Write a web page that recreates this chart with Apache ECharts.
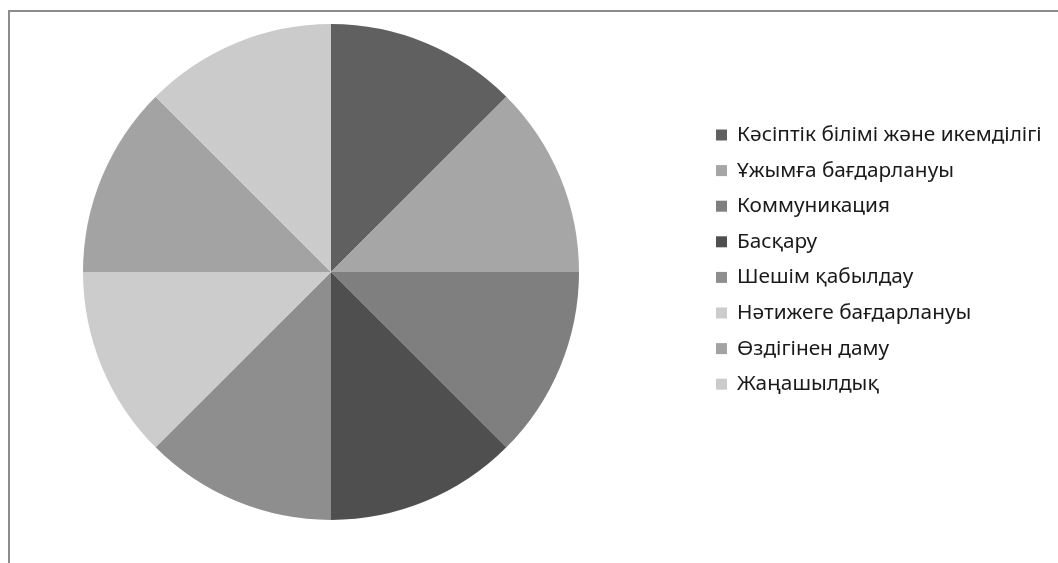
<!DOCTYPE html>
<html>
<head>
<meta charset="utf-8">
<script src="https://cdn.jsdelivr.net/npm/echarts@6/dist/echarts.min.js"></script>
<style>html,body{margin:0;padding:0;background:#fff}#c{width:1058px;height:563px}</style>
</head>
<body>
<div id="c"></div>
<script>
const categories = ["Кәсіптік білімі және икемділігі","Ұжымға бағдарлануы","Коммуникация","Басқару","Шешім қабылдау","Нәтижеге бағдарлануы","Өздігінен даму","Жаңашылдық"];
const values = [1,1,1,1,1,1,1,1];
const colors = ["#606060","#a6a6a6","#7f7f7f","#4f4f4f","#8e8e8e","#cccccc","#a3a3a3","#cbcbcb"];

const chart = echarts.init(document.getElementById('c'), null, {renderer:'canvas'});
chart.setOption({
  animation:false,
  backgroundColor:'#fff',
  graphic:[{type:'rect', shape:{x:9,y:11,width:1070,height:580}, style:{fill:'none', stroke:'#8c8c8c', lineWidth:2}, silent:true}],
  legend:{
    orient:'vertical', left:711, top:118,
    icon:'rect', itemWidth:11, itemHeight:11, itemGap:11.6,
    textStyle:{fontFamily:'Noto Sans, sans-serif', fontSize:20.8, color:'#1a1a1a', lineHeight:24, padding:[0,0,0,5]},
    data:categories
  },
  color:colors,
  series:[{
    type:'pie', center:[331,272], radius:248, startAngle:90, clockwise:true,
    label:{show:false}, labelLine:{show:false},
    itemStyle:{borderWidth:0},
    emphasis:{disabled:true},
    data:categories.map((n,i)=>({name:n,value:values[i]}))
  }]
});
</script>
</body>
</html>
